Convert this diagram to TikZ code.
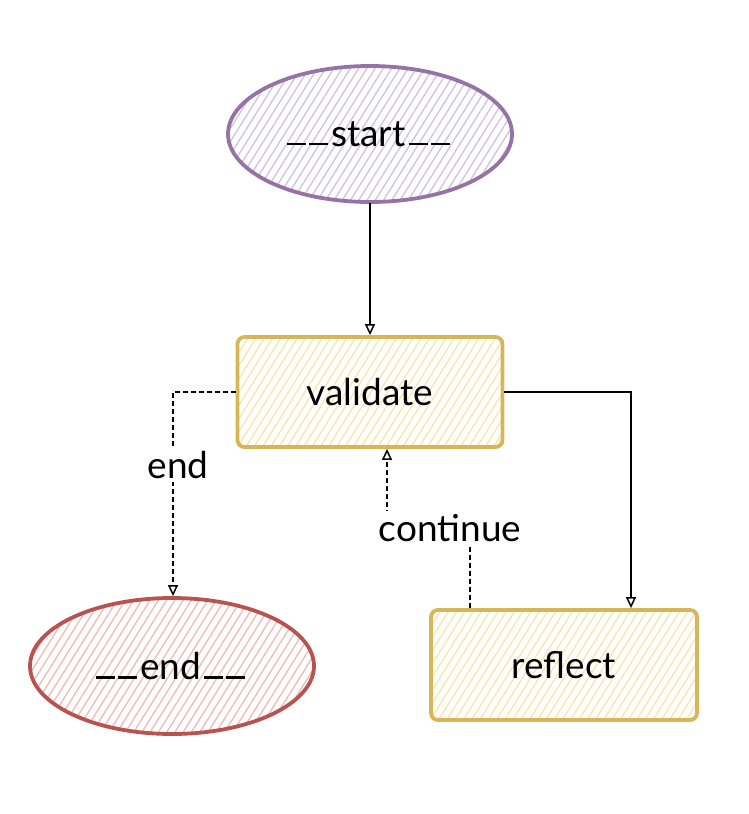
\documentclass[tikz,border=0pt]{standalone}
\usepackage{fontspec}
\setmainfont{Lato}
\usetikzlibrary{shapes.geometric,patterns.meta,arrows.meta}
\definecolor{purpleS}{HTML}{9673A6}
\definecolor{purpleF}{HTML}{D3C3E0}
\definecolor{yellowS}{HTML}{D6B656}
\definecolor{yellowF}{HTML}{F8E6AE}
\definecolor{redS}{HTML}{B85450}
\definecolor{redF}{HTML}{EEBDBA}
\newcommand{\usc}{\rule[1pt]{19pt}{2.6pt}\hspace{3pt}}
\tikzset{
  x=1pt, y=-1pt,
  lbl/.style={font=\fontsize{37}{40}\selectfont},
  base/.style={line width=3.8pt, inner sep=0pt, lbl},
  hatched/.style={pattern={Lines[angle=58,distance=7pt,line width=1.4pt]}, pattern color=#1},
  startnode/.style={base, ellipse, draw=purpleS, hatched=purpleF, minimum width=284pt, minimum height=136pt},
  endnode/.style={base, ellipse, draw=redS, hatched=redF, minimum width=284pt, minimum height=136pt},
  procnode/.style={base, rectangle, rounded corners=7pt, draw=yellowS, hatched=yellowF, minimum width=265pt, minimum height=110pt},
  edge/.style={line width=1.5pt, -{Triangle[open,length=11pt,width=10pt]}},
  cond/.style={edge, dash pattern=on 5pt off 3pt},
  elabel/.style={lbl, fill=white, inner sep=3pt}
}
\begin{document}
\begin{tikzpicture}
\useasboundingbox (0,0) rectangle (748,814);
\node[startnode] (start) at (370,134) {\usc\usc start\hspace{3pt}\usc\usc\hspace{-3pt}};
\node[procnode] (validate) at (370,392) {validate};
\node[endnode] (end) at (172,666) {\usc\usc end\hspace{3pt}\usc\usc\hspace{-3pt}};
\node[procnode, minimum width=266pt] (reflect) at (564,665) {reflect};

\draw[edge] (start) -- (validate);
\draw[edge] (validate.east) -| ([xshift=67pt]reflect.north);
\draw[cond] (validate.west) -| node[elabel, pos=0.68, xshift=5pt] (lend) {end} ([xshift=1pt]end.north);
\coordinate (c1) at ([xshift=-94pt]reflect.north);
\coordinate (c2) at ([xshift=17pt]validate.south);
\draw[cond] (c1) |- node[elabel, pos=0.5, xshift=-20pt] (lcont) {continue} ++(-83,-80) -- (c2);
\end{tikzpicture}
\end{document}
